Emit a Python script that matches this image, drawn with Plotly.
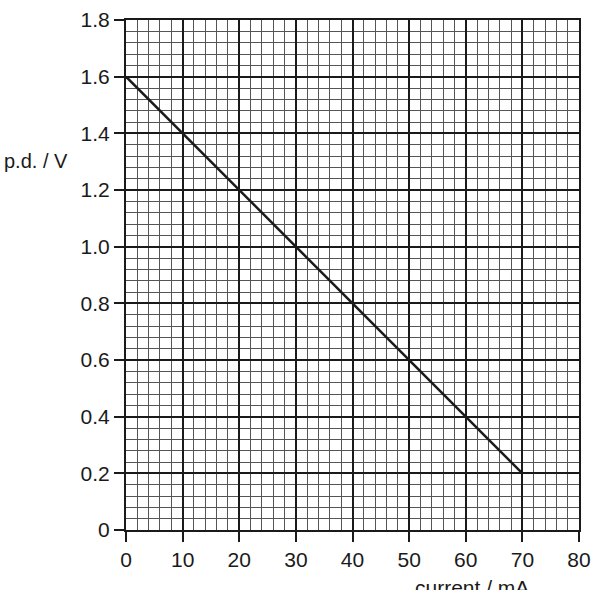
import plotly.graph_objects as go

# data
current_mA = [0, 70]
pd_V = [1.6, 0.2]

x_ticks = [0, 10, 20, 30, 40, 50, 60, 70, 80]
y_ticks = [0, 0.2, 0.4, 0.6, 0.8, 1.0, 1.2, 1.4, 1.6, 1.8]
y_tick_text = ["0", "0.2", "0.4", "0.6", "0.8", "1.0", "1.2", "1.4", "1.6", "1.8"]

FONT = "Liberation Sans, Arial, sans-serif"
INK = "#1a1a1a"

fig = go.Figure(go.Scatter(
    x=current_mA,
    y=pd_V,
    mode="lines",
    line=dict(color=INK, width=2.5),
    showlegend=False,
    hoverinfo="skip",
))

axis_style = dict(
    ticks="outside", ticklen=10, tickwidth=2, tickcolor=INK,
    showline=True, linewidth=2, linecolor=INK, mirror=True,
    showgrid=True, gridcolor=INK, gridwidth=1.5,
    zeroline=False, automargin=False,
    tickfont=dict(size=21, color=INK, family=FONT),
)

fig.update_xaxes(
    range=[0, 80], tickvals=x_ticks,
    minor=dict(dtick=2, showgrid=True, gridcolor="#555555", gridwidth=1, ticks=""),
    **axis_style,
)
fig.update_yaxes(
    range=[0, 1.8], tickvals=y_ticks, ticktext=y_tick_text,
    minor=dict(dtick=0.04, showgrid=True, gridcolor="#555555", gridwidth=1, ticks=""),
    **axis_style,
)

fig.add_annotation(
    text="p.d. / V", xref="paper", yref="paper", x=-0.124, y=0.7235,
    xanchor="right", yanchor="middle", showarrow=False,
    font=dict(size=20, color=INK, family=FONT),
)
fig.add_annotation(
    text="current / mA", xref="paper", yref="paper", x=0.764, y=-0.086,
    xanchor="center", yanchor="top", showarrow=False,
    font=dict(size=21, color=INK, family=FONT),
)

fig.update_layout(
    width=596,
    height=590,
    margin=dict(l=126, r=17, t=20, b=60),
    plot_bgcolor="white",
    paper_bgcolor="white",
    font=dict(family=FONT, size=20, color=INK),
)

# drop the page's default body margin so the figure sits at the window corner
fig.write_html(
    "out.html",
    config={"displayModeBar": False},
    post_script="document.body.style.margin='0';",
)
